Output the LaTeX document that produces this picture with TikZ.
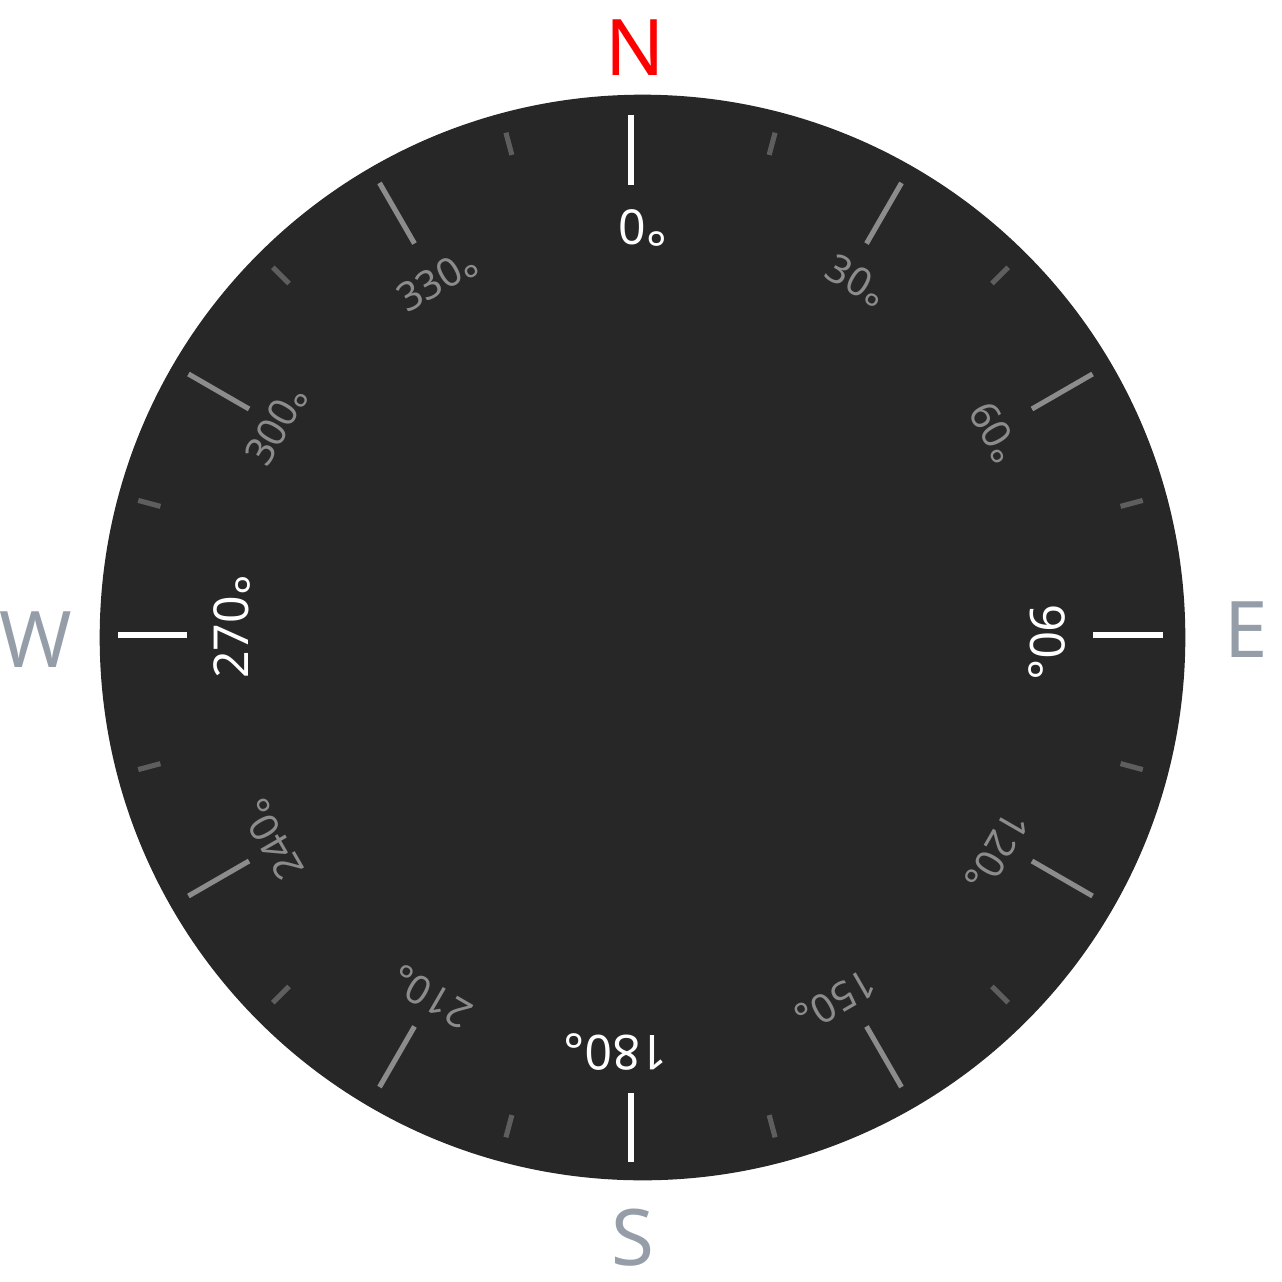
\documentclass[tikz,border=0pt]{standalone}
\usepackage{fontspec}
\usetikzlibrary{calc}
\setmainfont{Noto Sans}
\definecolor{dial}{HTML}{272727}
\definecolor{majgrey}{HTML}{8C8C8C}
\definecolor{mingrey}{HTML}{5E5E5E}
\definecolor{cardgrey}{HTML}{959EA8}
\definecolor{northred}{HTML}{FF0000}
\newcommand{\lowdeg}{\raisebox{-0.46em}[0pt][0pt]{°}}
\begin{document}
\begin{tikzpicture}[x=0.01cm,y=-0.01cm,
  cardtick/.style={draw=white,line width=1.45pt},
  majortick/.style={draw=majgrey,line width=1.45pt},
  minortick/.style={draw=mingrey,line width=1.45pt},
  whitelbl/.style={text=white,inner sep=0pt,font=\fontsize{13.7pt}{16pt}\selectfont},
  greylbl/.style={text=majgrey,inner sep=0pt,font=\fontsize{11.3pt}{14pt}\selectfont},
  cardlbl/.style={inner sep=0pt,font=\fontsize{22.2pt}{26pt}\selectfont}]
\useasboundingbox (0,0) rectangle (1282,1282);
\fill[white] (0,0) rectangle (1282,1282);
\node[circle,fill=dial,minimum size=10.85cm,inner sep=0pt] (dialface) at (642.5,637.5) {};
\coordinate (C) at (640.5,635);
% minor ticks
\foreach \a [evaluate=\a as \b using \a-90] in {15,45,...,345}
  \draw[minortick] ($(C)+(\b:497)$) -- ($(C)+(\b:520)$);
% major ticks
\foreach \a [evaluate=\a as \b using \a-90] in {30,60,120,150,210,240,300,330}
  \draw[majortick] ($(C)+(\b:452)$) -- ($(C)+(\b:522)$);
% cardinal ticks
\coordinate (t0a) at (631,115); \coordinate (t0b) at (631,185);
\coordinate (t90a) at (1093,635); \coordinate (t90b) at (1163,635);
\coordinate (t180a) at (631,1093); \coordinate (t180b) at (631,1162);
\coordinate (t270a) at (118,635); \coordinate (t270b) at (187,635);
\draw[cardtick] (t0a) -- (t0b);
\draw[cardtick] (t90a) -- (t90b);
\draw[cardtick] (t180a) -- (t180b);
\draw[cardtick] (t270a) -- (t270b);
% white labels
\node[whitelbl] (l0) at (643,227) {0\lowdeg};
\node[whitelbl,rotate=-90] (l90) at (1047.5,642) {90\lowdeg};
\node[whitelbl,rotate=180] (l180) at (616,1053) {180\lowdeg};
\node[whitelbl,rotate=90] (l270) at (231.5,627) {270\lowdeg};
% grey labels
\node[greylbl,rotate=-30] (l30) at (857,280) {30\lowdeg};
\node[greylbl,rotate=-60] (l60) at (995,432) {60\lowdeg};
\node[greylbl,rotate=-120] (l120) at (997,852) {120\lowdeg};
\node[greylbl,rotate=-150] (l150) at (836,1001) {150\lowdeg};
\node[greylbl,rotate=-210] (l210) at (431,997) {210\lowdeg};
\node[greylbl,rotate=-240] (l240) at (272,840) {240\lowdeg};
\node[greylbl,rotate=-300] (l300) at (276,425) {300\lowdeg};
\node[greylbl,rotate=-330] (l330) at (437,280) {330\lowdeg};
% cardinal letters
\node[cardlbl,text=northred] (N) at (635,48) {N};
\node[cardlbl,text=cardgrey] (E) at (1246,630) {E};
\node[cardlbl,text=cardgrey] (S) at (633,1238) {S};
\node[cardlbl,text=cardgrey] (W) at (36,640) {W};
\end{tikzpicture}
\end{document}
